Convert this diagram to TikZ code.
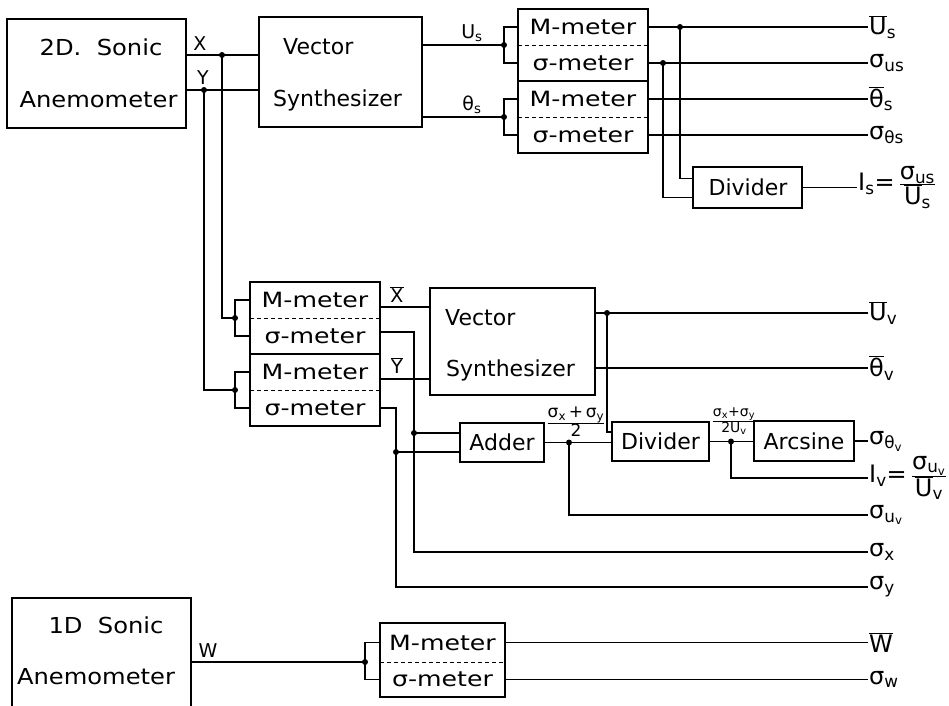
\documentclass[tikz,border=0pt]{standalone}
\usepackage{fontspec}
\setmainfont{DejaVu Sans}
\newfontfamily\widefont{DejaVu Sans}[FakeStretch=1.2]
\newfontfamily\wideA{DejaVu Sans}[FakeStretch=1.1]
\newcommand\ovl[1]{$\overline{\mbox{#1}}$}
\begin{document}
\begin{tikzpicture}[x=1pt,y=-1pt,
  wire/.style={line width=1.9pt},
  blk/.style={draw, line width=1.9pt, inner sep=0pt, font=\fontsize{22}{22}\selectfont},
  blkline/.style={line width=1.9pt},
  sepline/.style={line width=1.2pt, dash pattern=on 4pt off 3pt},
  btxt/.style={inner sep=0pt, font=\fontsize{22}{22}\selectfont},
  stxt/.style={inner sep=0pt, font=\wideA\fontsize{22}{22}\selectfont},
  mtr/.style={inner sep=0pt, minimum width=130pt, minimum height=36pt, font=\widefont\fontsize{21}{21}\selectfont},
  lbl/.style={anchor=west, inner sep=1pt, font=\fontsize{24}{24}\selectfont},
  wl/.style={inner sep=0pt, font=\fontsize{19}{19}\selectfont}]
\useasboundingbox (0,0) rectangle (949,705);
\clip (0,0) rectangle (949,705);

% ---------- blocks ----------
\node[blk, minimum width=179pt, minimum height=109pt] (son2) at (96.5,73.5) {};
\node[stxt] (t2a) at (101,47) {2D.\ \ Sonic};
\node[stxt] (t2b) at (98.5,100) {Anemometer};

\node[blk, minimum width=163pt, minimum height=110pt] (vs1) at (340.5,72) {};
\node[btxt, anchor=west] (t3a) at (283,47) {Vector};
\node[btxt, anchor=west] (t3b) at (273,100) {Synthesizer};

\node[blk, minimum width=109pt, minimum height=41pt] (div1) at (747.5,187.5) {};
\node[btxt] (t4) at (748,187.5) {Divider};

\node[blk, minimum width=165pt, minimum height=107pt] (vs2) at (512.5,341.5) {};
\node[btxt, anchor=west] (t5a) at (445,318) {Vector};
\node[btxt, anchor=west] (t5b) at (446,370) {Synthesizer};

\node[blk, minimum width=84pt, minimum height=39pt] (add) at (502,442.5) {Adder};
\node[blk, minimum width=97pt, minimum height=39pt] (div2) at (660.5,441.5) {Divider};
\node[blk, minimum width=100pt, minimum height=40pt] (arc) at (804,441) {Arcsine};

\node[blk, minimum width=179pt, minimum height=122pt] (son1) at (101.5,659) {};
\node[stxt] (t1a) at (106,625) {1D\ \ Sonic};
\node[stxt] (t1b) at (96,677) {Anemometer};

% ---------- meter stacks ----------
\node[mtr] (m1) at (583,27) {M-meter};
\node[mtr] (s1) at (583,63) {σ-meter};
\node[mtr] (m2) at (583,99) {M-meter};
\node[mtr] (s2) at (583,135) {σ-meter};
\draw[blkline] (m1.north west) rectangle (s1.south east);
\draw[blkline] (m2.north west) rectangle (s2.south east);
\draw[sepline] (m1.south west) -- (m1.south east);
\draw[sepline] (m2.south west) -- (m2.south east);

\node[mtr] (m3) at (315,300) {M-meter};
\node[mtr] (s3) at (315,336) {σ-meter};
\node[mtr] (m4) at (315,372) {M-meter};
\node[mtr] (s4) at (315,408) {σ-meter};
\draw[blkline] (m3.north west) rectangle (s3.south east);
\draw[blkline] (m4.north west) rectangle (s4.south east);
\draw[sepline] (m3.south west) -- (m3.south east);
\draw[sepline] (m4.south west) -- (m4.south east);

\node[mtr, minimum width=125pt, minimum height=39pt] (m5) at (442.5,642.5) {M-meter};
\node[mtr, minimum width=125pt, minimum height=35pt] (s5) at (442.5,679.5) {σ-meter};
\draw[blkline] (m5.north west) rectangle (s5.south east);
\draw[sepline] (m5.south west) -- (m5.south east);

% ---------- output labels ----------
\node[lbl] (lUs) at (868,27) {\ovl{U}\textsubscript{s}};
\node[lbl] (lsus) at (868,63) {σ\textsubscript{us}};
\node[lbl] (lTs) at (868,99) {\ovl{θ}\textsubscript{s}};
\node[lbl] (lsTs) at (868,135) {σ\textsubscript{θs}};
\node[lbl] (lIs) at (857,187.5) {I\textsubscript{s}=\,$\frac{\mbox{σ\textsubscript{us}}}{\mbox{\ovl{U}\textsubscript{s}}}$};
\node[lbl] (lUv) at (868,313) {\ovl{U}\textsubscript{v}};
\node[lbl] (lTv) at (868,368) {\ovl{θ}\textsubscript{v}};
\node[lbl] (lsTv) at (868,441) {σ\textsubscript{θ\textsubscript{v}}};
\node[lbl] (lIv) at (868,478) {I\textsubscript{v}=\,$\frac{\mbox{σ\textsubscript{u\textsubscript{v}}}}{\mbox{\ovl{U}\textsubscript{v}}}$};
\node[lbl] (lsuv) at (868,515) {σ\textsubscript{u\textsubscript{v}}};
\node[lbl] (lsx) at (868,552) {σ\textsubscript{x}};
\node[lbl] (lsy) at (868,587) {σ\textsubscript{y}};
\node[lbl] (lWb) at (868,642.5) {\ovl{W}};
\node[lbl] (lsw) at (868,679.5) {σ\textsubscript{w}};

% ---------- wire labels ----------
\node[wl] (lX) at (200,44) {X};
\node[wl] (lY) at (203,78) {Y};
\node[wl] (lU) at (472,33) {U\textsubscript{s}};
\node[wl] (lT) at (472,105) {θ\textsubscript{s}};
\node[wl] (lXb) at (397,295) {\ovl{X}};
\node[wl] (lYb) at (397,366) {\ovl{Y}};
\node[wl] (lW) at (208,651) {W};
\node[inner sep=0pt, font=\fontsize{17}{17}\selectfont] (f1) at (576,422) {$\frac{\mbox{σ\textsubscript{x}\,+\,σ\textsubscript{y}}}{\mbox{2}}$};
\node[inner sep=0pt, font=\fontsize{14}{14}\selectfont] (f2) at (734,421) {$\frac{\mbox{σ\textsubscript{x}+σ\textsubscript{y}}}{\mbox{2U\textsubscript{v}}}$};

% ---------- junctions ----------
\coordinate (dx) at (222,55);
\coordinate (dy) at (204,90);
\coordinate (b1) at (504,45);
\coordinate (b2) at (504,117);
\coordinate (d1) at (680,27);
\coordinate (d2) at (663,63);
\coordinate (b3) at (235,318);
\coordinate (b4) at (235,390);
\coordinate (ax) at (414,433);
\coordinate (ay) at (396,452);
\coordinate (da) at (569,442.5);
\coordinate (dv) at (607,313);
\coordinate (dd) at (731,441.5);
\coordinate (b5) at (365,662);

% ---------- wires: top ----------
\draw[wire] (son2.east |- dx) -- (vs1.west |- dx);
\draw[wire] (son2.east |- dy) -- (vs1.west |- dy);
\draw[wire] (vs1.east |- b1) -- (b1);
\draw[wire] (vs1.east |- b2) -- (b2);
\draw[wire] (m1.west) -| (b1) |- (s1.west);
\draw[wire] (m2.west) -| (b2) |- (s2.west);
\draw[wire] (m1.east) -- (lUs.west);
\draw[wire] (s1.east) -- (lsus.west);
\draw[wire] (m2.east) -- (lTs.west);
\draw[wire] (s2.east) -- (lsTs.west);
\draw[wire] (d1) |- ([yshift=9pt]div1.west);
\draw[wire] (d2) |- ([yshift=-10pt]div1.west);
\draw[wire] (div1.east) -- (lIs.west);

% ---------- wires: middle ----------
\draw[wire] (dx) |- (b3);
\draw[wire] (dy) |- (b4);
\draw[wire] (m3.west) -| (b3) |- (s3.west);
\draw[wire] (m4.west) -| (b4) |- (s4.west);
\draw[wire] ([yshift=-7pt]m3.east) -- ([yshift=-7pt]m3.east -| vs2.west);
\draw[wire] ([yshift=-7pt]m4.east) -- ([yshift=-7pt]m4.east -| vs2.west);
\draw[wire] ([yshift=4pt]s3.east) -| (ax) |- (lsx.west);
\draw[wire] (s4.east) -| (ay) |- (lsy.west);
\draw[wire] (ax) -- (ax -| add.west);
\draw[wire] (ay) -- (ay -| add.west);
\draw[wire] (add.east) -- (add.east -| div2.west);
\draw[wire] (da) |- (lsuv.west);
\draw[wire] (vs2.east |- dv) -- (lUv.west);
\draw[wire] (vs2.east |- lTv.west) -- (lTv.west);
\draw[wire] (dv) |- ([yshift=9.5pt]div2.west);
\draw[wire] (div2.east) -- (div2.east -| arc.west);
\draw[wire] (dd) |- (lIv.west);
\draw[wire] (arc.east) -- (lsTv.west);

% ---------- wires: bottom ----------
\draw[wire] (son1.east |- b5) -- (b5);
\draw[wire] (m5.west) -| (b5) |- (s5.west);
\draw[wire] (m5.east) -- (lWb.west);
\draw[wire] (s5.east) -- (lsw.west);

% ---------- dots ----------
\foreach \p in {dx,dy,b1,b2,d1,d2,b3,b4,ax,ay,da,dv,dd,b5}
  \fill (\p) circle[radius=3];
\end{tikzpicture}
\end{document}
